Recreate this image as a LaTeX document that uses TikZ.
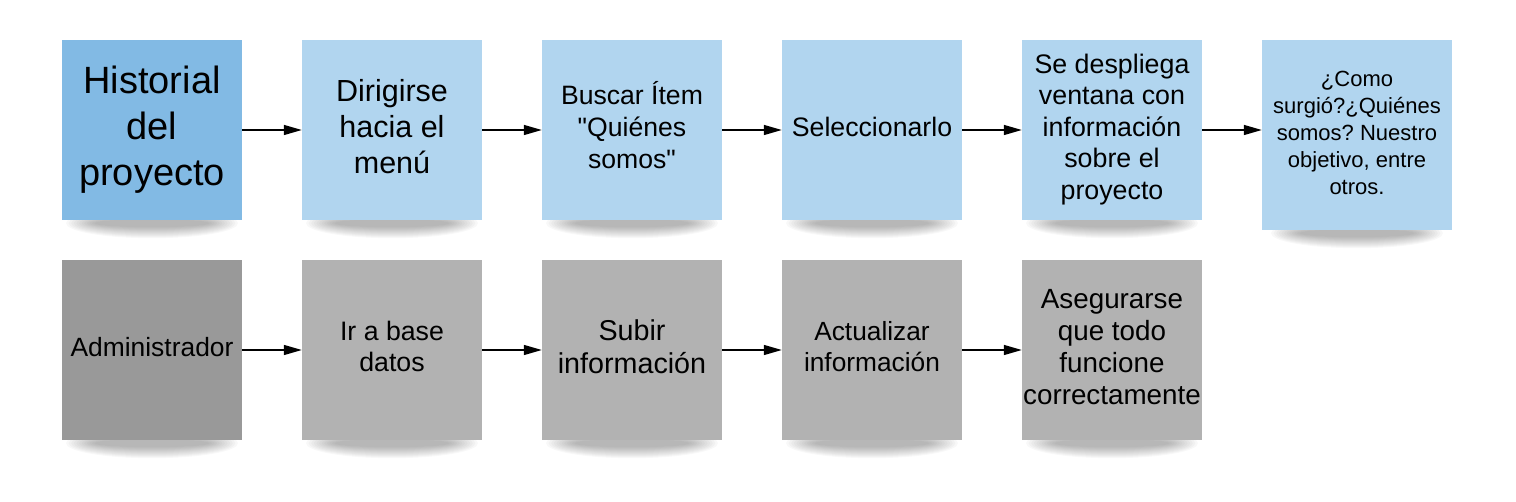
\documentclass[tikz,border=0pt]{standalone}
\usepackage{fontspec}
\setmainfont{Liberation Sans}[Ligatures=TeXOff]
\frenchspacing
\usetikzlibrary{arrows.meta,backgrounds}
\definecolor{bluedark}{HTML}{82BAE4}
\definecolor{bluelight}{HTML}{B1D5EF}
\definecolor{graydark}{HTML}{999999}
\definecolor{graylight}{HTML}{B2B2B2}
\tikzset{
  bx/.style={minimum width=180pt, minimum height=180pt, inner sep=0pt, text=black},
  hb/.style={bx, fill=bluedark},
  lb/.style={bx, fill=bluelight},
  dg/.style={bx, fill=graydark},
  lg/.style={bx, fill=graylight},
  arr/.style={-{Triangle[length=18pt,width=10pt]}, line width=1.4pt},
}
\newcommand\fsz[2]{\fontsize{#1}{#2}\selectfont\frenchspacing}
\newcommand\tb[1]{\begin{tabular}{@{}c@{}}#1\end{tabular}}
\newcommand\shadowunder[1]{%
  \foreach \k in {0,...,11}{%
    \fill[black,opacity=0.028] ([yshift=-3pt]#1.south) ellipse [x radius={86pt-2.6pt*\k}, y radius={15pt-1.0pt*\k}];}}
\begin{document}
\begin{tikzpicture}[x=1pt,y=-1pt]
\useasboundingbox (0,0) rectangle (1516,502);
% row 1
\node[hb, font=\fsz{38}{46}] (a1) at (152,130) {\tb{Historial\\del\\proyecto}};
\node[lb, font=\fsz{30.5}{36}] (a2) at (392,130) {\tb{Dirigirse\\hacia el\\menú}};
\node[lb, font=\fsz{26.6}{32}] (a3) at (632,130) {\tb{Buscar Ítem\\"Quiénes\\somos"}};
\node[lb, font=\fsz{26.7}{32}] (a4) at (872,130) {\tb{Seleccionarlo}};
\node[lb, font=\fsz{26.8}{31.5}] (a5) at (1112,130) {\tb{Se despliega\\ventana con\\información\\sobre el\\proyecto}};
\node[lb, font=\fsz{22}{27}, minimum width=190pt, minimum height=190pt] (a6) at (1357,135) {\tb{¿Como\\surgió?¿Quiénes\\somos? Nuestro\\objetivo, entre\\otros.}};
% row 2
\node[dg, font=\fsz{26.4}{31}] (b1) at (152,350) {\tb{Administrador}};
\node[lg, font=\fsz{26.7}{31}] (b2) at (392,350) {\tb{Ir a base\\datos}};
\node[lg, font=\fsz{28.7}{33}] (b3) at (632,350) {\tb{Subir\\información}};
\node[lg, font=\fsz{26.3}{31}] (b4) at (872,350) {\tb{Actualizar\\información}};
\node[lg, font=\fsz{27.8}{32}] (b5) at (1112,350) {\tb{Asegurarse\\que todo\\funcione\\correctamente}};
% shadows
\begin{pgfonlayer}{background}
\foreach \n in {a1,a2,a3,a4,a5,a6,b1,b2,b3,b4,b5}{\shadowunder{\n}}
\end{pgfonlayer}
% arrows
\draw[arr] (a1) -- (a2);
\draw[arr] (a2) -- (a3);
\draw[arr] (a3) -- (a4);
\draw[arr] (a4) -- (a5);
\draw[arr] (a5.east) -- (a5.east -| a6.west);
\draw[arr] (b1) -- (b2);
\draw[arr] (b2) -- (b3);
\draw[arr] (b3) -- (b4);
\draw[arr] (b4) -- (b5);
\end{tikzpicture}
\end{document}
